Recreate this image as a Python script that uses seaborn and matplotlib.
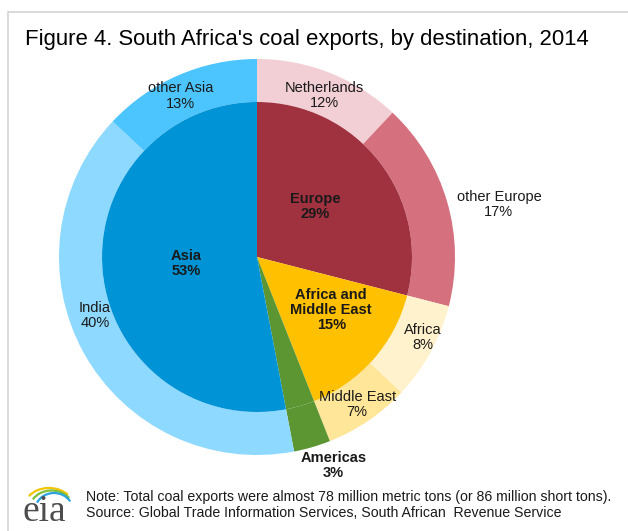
import numpy as np
import matplotlib
matplotlib.use("Agg")
import matplotlib.pyplot as plt
from matplotlib.patches import Rectangle, Arc
import seaborn as sns

# Inner ring: regions (share of exports, %)
inner_labels = ["Europe", "Africa and\nMiddle East", "Americas", "Asia"]
inner_shares = [29, 15, 3, 53]
inner_colors = ["#A0313F", "#FFC000", "#5B9632", "#0093D6"]

# Outer ring: destinations (share of exports, %)
outer_labels = ["Netherlands", "other Europe", "Africa", "Middle East", "", "India", "other Asia"]
outer_shares = [12, 17, 8, 7, 3, 40, 13]
outer_colors = ["#F2CED5", "#D5717F", "#FFF2CC", "#FFE699", "#5B9632", "#8DD9FF", "#4CC5FF"]

TITLE = "Figure 4. South Africa's coal exports, by destination, 2014"
NOTE = ("Note: Total coal exports were almost 78 million metric tons (or 86 million short tons).\n"
        "Source: Global Trade Information Services, South African  Revenue Service")

# label placement (radius in outer-radius units, angle nudge in degrees)
INNER_R = 155 / 198
inner_lab_r = [0.39, 0.46, 1.12, 0.36]
inner_lab_nudge = [3, 6, 4, 0]
outer_lab_r = [0.885, 1.25, 0.93, 0.9, 0, 0.87, 0.9]
outer_lab_nudge = [-1, -4, 3, 0, 0, -9, 2]

sns.set_theme(style="white")
plt.rcParams["font.family"] = ["Liberation Sans", "DejaVu Sans"]

W, H = 628, 531
fig = plt.figure(figsize=(W / 100, H / 100), dpi=100)
cx, cy, R = 257, 257, 198
ax = fig.add_axes([(cx - R) / W, 1 - (cy + R) / H, 2 * R / W, 2 * R / H])

outer_w, _ = ax.pie(outer_shares, radius=1, startangle=90, counterclock=False,
                    colors=outer_colors, wedgeprops=dict(width=1 - INNER_R, linewidth=0))
inner_w, _ = ax.pie(inner_shares, radius=INNER_R, startangle=90, counterclock=False,
                    colors=inner_colors, wedgeprops=dict(linewidth=0))
ax.set_xlim(-1, 1)
ax.set_ylim(-1, 1)
ax.set_aspect("equal")
ax.axis("off")


def put_labels(wedges, labels, shares, radii, nudges, bold):
    for w, lab, s, r, d in zip(wedges, labels, shares, radii, nudges):
        if not lab:
            continue
        ang = np.deg2rad((w.theta1 + w.theta2) / 2 + d)
        ax.text(r * np.cos(ang), r * np.sin(ang), f"{lab}\n{s}%", ha="center", va="center",
                fontsize=10.5, color="#1a1a1a", fontweight="bold" if bold else "normal",
                linespacing=1.1, clip_on=False)


put_labels(outer_w, outer_labels, outer_shares, outer_lab_r, outer_lab_nudge, False)
put_labels(inner_w, inner_labels, inner_shares, inner_lab_r, inner_lab_nudge, True)

fig.text(25 / W, 1 - 40 / H, TITLE, fontsize=15.9, va="center", ha="left", color="#000000")
fig.text(86 / W, 1 - 505 / H, NOTE, fontsize=10.2, va="center", ha="left", color="#1a1a1a",
         linespacing=1.15)

# frame
fig.add_artist(Rectangle((8 / W, -0.1), 1.2, 1.1 - 12 / H, transform=fig.transFigure,
                         fill=False, edgecolor="#d4d4d4", linewidth=1.2))

# eia logo
fig.text(44 / W, 1 - 512 / H, "eia", fontsize=27, family="Liberation Serif", color="#4d4d4d",
         ha="center", va="center")
for col, dy, w in [("#F2C500", 0, 40), ("#7DBE3C", 2.5, 36), ("#2AA3DF", 5, 32)]:
    fig.add_artist(Arc(((49 + dy) / W, 1 - (506 + dy) / H), w * 1.2 / W, 36 / H,
                       theta1=35, theta2=150, transform=fig.transFigure, color=col, linewidth=1.6))

fig.savefig("out.png", dpi=100)
